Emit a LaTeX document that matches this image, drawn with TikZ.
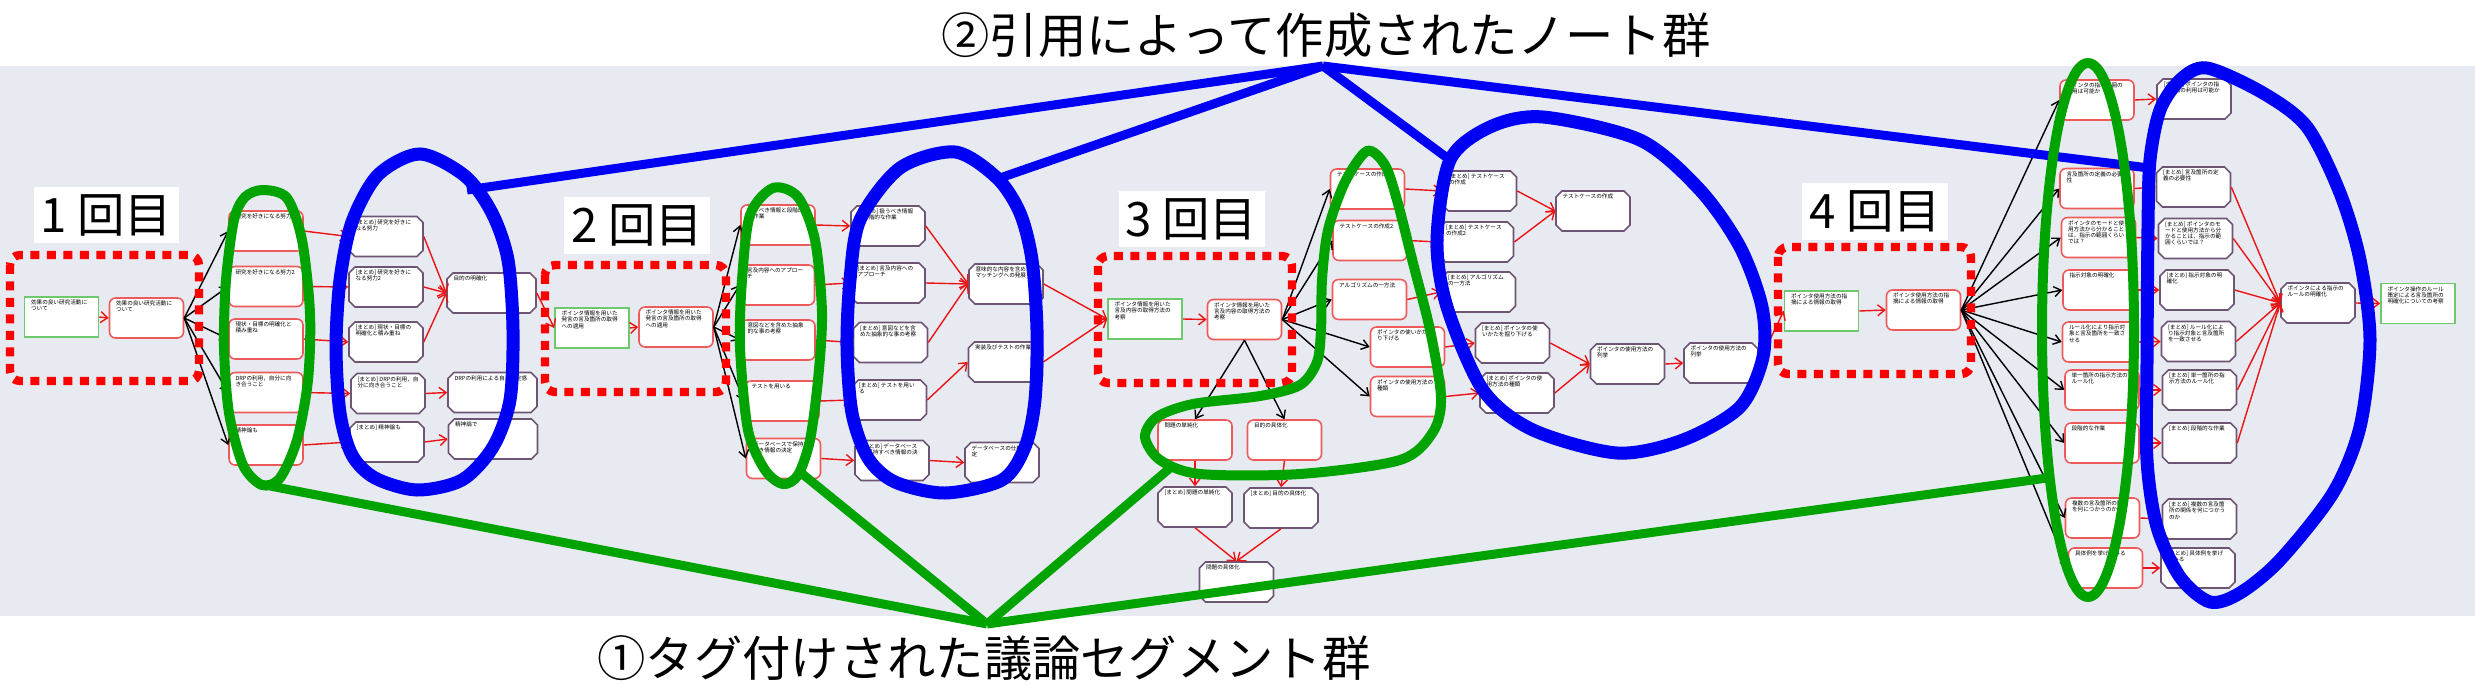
\documentclass[tikz,border=0pt]{standalone}
\usepackage{fontspec}
\setmainfont{Noto Sans CJK JP}
\XeTeXlinebreaklocale "ja"
\XeTeXlinebreakskip=0pt plus 1pt
\usetikzlibrary{arrows.meta,shapes.misc,calc}

\definecolor{panelgray}{RGB}{232,234,242}
\definecolor{notered}{RGB}{238,90,90}
\definecolor{arrowred}{RGB}{235,20,20}
\definecolor{summgray}{RGB}{110,85,115}
\definecolor{srcgreen}{RGB}{110,200,110}
\definecolor{markgreen}{RGB}{0,163,0}
\definecolor{markblue}{RGB}{0,0,245}
\definecolor{sessred}{RGB}{255,0,0}

\newcommand{\bx}[2][1.22cm]{\parbox[c][0.68cm][t]{#1}{\raggedright #2}}

\tikzset{
  card/.style={fill=white, line width=0.9pt, minimum width=1.48cm, minimum height=0.8cm,
               inner xsep=0.13cm, inner ysep=0.06cm, font=\fontsize{3.2}{3.5}\selectfont},
  src/.style={card, draw=srcgreen, rectangle},
  note/.style={card, draw=notered, rounded corners=0.12cm},
  summ/.style={card, draw=summgray, chamfered rectangle, inner xsep=0.07cm, inner ysep=0cm,
               chamfered rectangle xsep=0.06cm, chamfered rectangle ysep=0.06cm},
  redarr/.style={draw=arrowred, line width=0.8pt, -{Straight Barb[length=0.14cm, width=0.22cm]}},
  blkarr/.style={draw=black, line width=0.8pt, -{Straight Barb[length=0.14cm, width=0.2cm]}},
  sessbox/.style={draw=sessred, line width=4.8pt, dash pattern=on 0.18cm off 0.15cm, rounded corners=0.2cm},
  sesslabel/.style={fill=white, minimum width=2.92cm, minimum height=1.14cm, inner sep=0pt,
                    font=\fontsize{27}{27}\selectfont},
  blueline/.style={draw=markblue, line width=0.18cm},
  greenline/.style={draw=markgreen, line width=0.18cm},
  title/.style={font=\fontsize{27.5}{28}\selectfont, inner sep=0pt}
}

\begin{document}
\begin{tikzpicture}[x=0.02cm, y=-0.02cm]
  \useasboundingbox (0,0) rectangle (2475,696);
  \fill[panelgray] (0,66) rectangle (2475,616);

  % 1st session
  \node[src]  (s1)  at (61.5,317) {\bx{効果の良い研究活動について}};
  \node[note] (r1)  at (146.5,318) {\bx{効果の良い研究活動について}};
  \node[note] (a1a) at (266,231) {\bx{研究を好きになる努力}};
  \node[note] (a1b) at (266,286.5) {\bx{研究を好きになる努力2}};
  \node[note] (a1c) at (266,339) {\bx{現状・目標の明確化と積み重ね}};
  \node[note] (a1d) at (266,392.5) {\bx{DRPの利用，自分に向き合うこと}};
  \node[note] (a1e) at (266,445) {\bx{精神論も}};
  \node[summ] (m1a) at (386,236.5) {\bx{[まとめ] 研究を好きになる努力}};
  \node[summ] (m1b) at (386,287) {\bx{[まとめ] 研究を好きになる努力2}};
  \node[summ] (m1c) at (386,342) {\bx{[まとめ] 現状・目標の明確化と積み重ね}};
  \node[summ] (m1d) at (388,393.5) {\bx{[まとめ] DRPの利用，自分に向き合うこと}};
  \node[summ] (m1e) at (387,442) {\bx{[まとめ] 精神論も}};
  \node[summ, minimum width=1.78cm] (t1a) at (491.5,293) {\bx[1.52cm]{目的の明確化}};
  \node[summ, minimum width=1.78cm] (t1b) at (492.5,392.5) {\bx[1.52cm]{DRPの利用による自己肯定感}};
  \node[summ, minimum width=1.78cm] (t1c) at (493,439) {\bx[1.52cm]{精神論で}};

  % 2nd session
  \node[src]  (s2)  at (592,328) {\bx{ポインタ情報を用いた発言の言及箇所の取得への適用}};
  \node[note] (r2)  at (676,327) {\bx{ポインタ情報を用いた発言の言及箇所の取得への適用}};
  \node[note] (a2a) at (778,225) {\bx{扱うべき情報と段階的な作業}};
  \node[note] (a2b) at (777.5,285) {\bx{言及内容へのアプローチ}};
  \node[note] (a2c) at (778,340) {\bx{意図などを含めた抽象的な事の考察}};
  \node[note] (a2d) at (782,401) {\bx{テストを用いる}};
  \node[note] (a2e) at (783.5,458.5) {\bx{データベースで保持すべき情報の決定}};
  \node[summ] (m2a) at (888,226) {\bx{[まとめ] 扱うべき情報と段階的な作業}};
  \node[summ] (m2b) at (888,283) {\bx{[まとめ] 言及内容へのアプローチ}};
  \node[summ] (m2c) at (890.5,342.5) {\bx{[まとめ] 意図などを含めた抽象的な事の考察}};
  \node[summ] (m2d) at (889.5,400) {\bx{[まとめ] テストを用いる}};
  \node[summ] (m2e) at (892,460.5) {\bx{[まとめ] データベースで保持すべき情報の決定}};
  \node[summ] (t2a) at (1006,284) {\bx{意味的な内容を含めたマッチングへの発展}};
  \node[summ] (t2b) at (1005.5,362) {\bx{実装及びテストの作業}};
  \node[summ] (t2c) at (1002,462.5) {\bx{データベースの仕様決定}};

  % 3rd session
  \node[src]  (s3)  at (1145,319) {\bx{ポインタ情報を用いた言及内容の取得方法の考察}};
  \node[note] (r3)  at (1244.5,319.5) {\bx{ポインタ情報を用いた言及内容の取得方法の考察}};
  \node[note] (a3a) at (1367.5,189) {\bx{テストケースの作成}};
  \node[note] (a3b) at (1370,240.5) {\bx{テストケースの作成2}};
  \node[note] (a3c) at (1369.5,299.5) {\bx{アルゴリズムの一方法}};
  \node[note] (a3d) at (1407.5,347) {\bx{ポインタの使いかた掘り下げる}};
  \node[note] (a3e) at (1407.5,396.5) {\bx{ポインタの使用方法の種類}};
  \node[note] (a3f) at (1195,440) {\bx{問題の単純化}};
  \node[note] (a3g) at (1284.5,440) {\bx{目的の具体化}};
  \node[summ] (m3a) at (1479.5,191) {\bx{[まとめ] テストケースの作成}};
  \node[summ] (m3b) at (1476.5,242) {\bx{[まとめ] テストケースの作成2}};
  \node[summ] (m3c) at (1478.5,292) {\bx{[まとめ] アルゴリズムの一方法}};
  \node[summ] (m3d) at (1512.5,343) {\bx{[まとめ] ポインタの使いかたを掘り下げる}};
  \node[summ] (m3e) at (1517,393) {\bx{[まとめ] ポインタの使用方法の種類}};
  \node[summ] (m3f) at (1195,507) {\bx{[まとめ] 問題の単純化}};
  \node[summ] (m3g) at (1281,508) {\bx{[まとめ] 目的の具体化}};
  \node[summ] (t3a) at (1593,211) {\bx{テストケースの作成}};
  \node[summ] (t3b) at (1627.5,364) {\bx{ポインタの使用方法の列挙}};
  \node[summ] (t3c) at (1721,363) {\bx{ポインタの使用方法の列挙}};
  \node[summ] (t3d) at (1236.5,582) {\bx{問題の具体化}};

  % 4th session
  \node[src]  (s4)  at (1821.5,311) {\bx{ポインタ使用方法の指摘による情報の取得}};
  \node[note] (r4)  at (1923.5,310) {\bx{ポインタ使用方法の指摘による情報の取得}};
  \node[note] (a4a) at (2097,100) {\bx{ポインタの指示範囲の利用は可能か}};
  \node[note] (a4b) at (2097,188.5) {\bx{言及箇所の定義の必要性}};
  \node[note] (a4c) at (2098.5,237.5) {\bx{ポインタのモードと使用方法から分かることは，指示の範囲くらいでは？}};
  \node[note] (a4d) at (2100,290) {\bx{指示対象の明確化}};
  \node[note] (a4e) at (2099.5,342) {\bx{ルール化により指示対象と言及箇所を一致させる}};
  \node[note] (a4f) at (2102,390) {\bx{単一箇所の指示方法のルール化}};
  \node[note] (a4g) at (2102,443) {\bx{段階的な作業}};
  \node[note] (a4h) at (2102.5,518) {\bx{複数の言及箇所の関係を何につかうのか}};
  \node[note] (a4i) at (2105.5,568) {\bx{具体例を挙げてみる}};
  \node[summ] (m4a) at (2194,99) {\bx{[まとめ] ポインタの指示範囲の利用は可能か}};
  \node[summ] (m4b) at (2193.5,187) {\bx{[まとめ] 言及箇所の定義の必要性}};
  \node[summ] (m4c) at (2195.5,238.5) {\bx{[まとめ] ポインタのモードと使用方法から分かることは，指示の範囲くらいでは？}};
  \node[summ] (m4d) at (2197,290) {\bx{[まとめ] 指示対象の明確化}};
  \node[summ] (m4e) at (2198.5,341.5) {\bx{[まとめ] ルール化により指示対象と言及箇所を一致させる}};
  \node[summ] (m4f) at (2199.5,390) {\bx{[まとめ] 単一箇所の指示方法のルール化}};
  \node[summ] (m4g) at (2199.5,443) {\bx{[まとめ] 段階的な作業}};
  \node[summ] (m4h) at (2199.5,519) {\bx{[まとめ] 複数の言及箇所の関係を何につかうのか}};
  \node[summ] (m4i) at (2198,568) {\bx{[まとめ] 具体例を挙げてみる}};
  \node[summ] (t4a) at (2318,303) {\bx{ポインタによる指示のルールの明確化}};
  \node[src]  (u4)  at (2418,303.5) {\bx{ポインタ操作のルール策定による言及箇所の明確化についての考察}};

  % links of the 1st session
  \draw[redarr] (s1.east) -- (r1.west);
  \draw[blkarr] (r1.east) -- (a1a.west);
  \draw[blkarr] (r1.east) -- (a1b.west);
  \draw[blkarr] (r1.east) -- (a1c.west);
  \draw[blkarr] (r1.east) -- (a1d.west);
  \draw[blkarr] (r1.east) -- (a1e.west);
  \draw[redarr] (a1a.east) -- (m1a.west);
  \draw[redarr] (a1b.east) -- (m1b.west);
  \draw[redarr] (a1c.east) -- (m1c.west);
  \draw[redarr] (a1d.east) -- (m1d.west);
  \draw[redarr] (a1e.east) -- (m1e.west);
  \draw[redarr] (m1a.east) -- (t1a.west);
  \draw[redarr] (m1b.east) -- (t1a.west);
  \draw[redarr] (m1c.east) -- (t1a.west);
  \draw[redarr] (m1d.east) -- (t1b.west);
  \draw[redarr] (m1e.east) -- (t1c.west);
  \draw[redarr] (t1a.east) -- (s2.west);

  % links of the 2nd session
  \draw[redarr] (s2.east) -- (r2.west);
  \draw[blkarr] (r2.east) -- (a2a.west);
  \draw[blkarr] (r2.east) -- (a2b.west);
  \draw[blkarr] (r2.east) -- (a2c.west);
  \draw[blkarr] (r2.east) -- (a2d.west);
  \draw[blkarr] (r2.east) -- (a2e.west);
  \draw[redarr] (a2a.east) -- (m2a.west);
  \draw[redarr] (a2b.east) -- (m2b.west);
  \draw[redarr] (a2c.east) -- (m2c.west);
  \draw[redarr] (a2d.east) -- (m2d.west);
  \draw[redarr] (a2e.east) -- (m2e.west);
  \draw[redarr] (m2a.east) -- (t2a.west);
  \draw[redarr] (m2b.east) -- (t2a.west);
  \draw[redarr] (m2c.east) -- (t2a.west);
  \draw[redarr] (m2d.east) -- (t2b.west);
  \draw[redarr] (m2e.east) -- (t2c.west);
  \draw[redarr] (t2a.east) -- (s3.west);
  \draw[redarr] (t2b.east) -- (s3.west);

  % links of the 3rd session
  \draw[redarr] (s3.east) -- (r3.west);
  \draw[blkarr] (r3.east) -- (a3a.west);
  \draw[blkarr] (r3.east) -- (a3b.west);
  \draw[blkarr] (r3.east) -- (a3c.west);
  \draw[blkarr] (r3.east) -- (a3d.west);
  \draw[blkarr] (r3.east) -- (a3e.west);
  \draw[blkarr] (r3.south) -- (a3f.north);
  \draw[blkarr] (r3.south) -- (a3g.north);
  \draw[redarr] (a3a.east) -- (m3a.west);
  \draw[redarr] (a3b.east) -- (m3b.west);
  \draw[redarr] (a3c.east) -- (m3c.west);
  \draw[redarr] (a3d.east) -- (m3d.west);
  \draw[redarr] (a3e.east) -- (m3e.west);
  \draw[redarr] (a3f.south) -- (m3f.north);
  \draw[redarr] (a3g.south) -- (m3g.north);
  \draw[redarr] (m3a.east) -- (t3a.west);
  \draw[redarr] (m3b.east) -- (t3a.west);
  \draw[redarr] (m3d.east) -- (t3b.west);
  \draw[redarr] (m3e.east) -- (t3b.west);
  \draw[redarr] (t3b.east) -- (t3c.west);
  \draw[redarr] (m3f.south) -- (t3d.north);
  \draw[redarr] (m3g.south) -- (t3d.north);
  \draw[redarr] (t3c.east) -- (s4.west);

  % links of the 4th session
  \draw[redarr] (s4.east) -- (r4.west);
  \draw[blkarr] (r4.east) -- (a4a.west);
  \draw[blkarr] (r4.east) -- (a4b.west);
  \draw[blkarr] (r4.east) -- (a4c.west);
  \draw[blkarr] (r4.east) -- (a4d.west);
  \draw[blkarr] (r4.east) -- (a4e.west);
  \draw[blkarr] (r4.east) -- (a4f.west);
  \draw[blkarr] (r4.east) -- (a4g.west);
  \draw[blkarr] (r4.east) -- (a4h.west);
  \draw[blkarr] (r4.east) -- (a4i.west);
  \draw[redarr] (a4a.east) -- (m4a.west);
  \draw[redarr] (a4b.east) -- (m4b.west);
  \draw[redarr] (a4c.east) -- (m4c.west);
  \draw[redarr] (a4d.east) -- (m4d.west);
  \draw[redarr] (a4e.east) -- (m4e.west);
  \draw[redarr] (a4f.east) -- (m4f.west);
  \draw[redarr] (a4g.east) -- (m4g.west);
  \draw[redarr] (a4h.east) -- (m4h.west);
  \draw[redarr] (a4i.east) -- (m4i.west);
  \draw[redarr] (m4b.east) -- (t4a.west);
  \draw[redarr] (m4c.east) -- (t4a.west);
  \draw[redarr] (m4d.east) -- (t4a.west);
  \draw[redarr] (m4e.east) -- (t4a.west);
  \draw[redarr] (m4f.east) -- (t4a.west);
  \draw[redarr] (m4g.east) -- (t4a.west);
  \draw[redarr] (t4a.east) -- (u4.west);

  % session frames and labels
  \draw[sessbox] (10,255) rectangle (199,381);
  \draw[sessbox] (545,265) rectangle (726,392);
  \draw[sessbox] (1098,256) rectangle (1292,383);
  \draw[sessbox] (1778,247) rectangle (1971,374);
  \node[sesslabel] (lbl1) at (106.5,215) {1 回目};
  \node[sesslabel] (lbl2) at (637,225.5) {2 回目};
  \node[sesslabel] (lbl3) at (1191.5,219) {3 回目};
  \node[sesslabel] (lbl4) at (1875,211.5) {4 回目};

  % blue: notes made by citation
  \draw[markblue, line width=0.26cm] plot[smooth cycle] coordinates {(420,154) (465,176) (492,213) (508,260) (513,330) (510,400) (493,447) (462,480) (417,490) (375,478) (352,455) (340,413) (336,347) (340,280) (352,222) (378,175)};
  \draw[markblue, line width=0.26cm] plot[smooth cycle] coordinates {(955,152) (997,178) (1020,213) (1032,260) (1037,330) (1035,400) (1025,447) (1002,480) (945,493) (895,482) (868,458) (852,413) (847,347) (850,280) (860,220) (900,168)};
  \draw[markblue, line width=0.26cm] plot[smooth cycle] coordinates {(1543,117) (1640,140) (1700,190) (1740,247) (1762,307) (1763,357) (1740,407) (1683,440) (1617,453) (1533,430) (1483,390) (1447,307) (1437,240) (1450,160) (1490,127)};
  \draw[markblue, line width=0.26cm] plot[smooth cycle] coordinates {(2207,68) (2263,93) (2307,127) (2340,193) (2360,260) (2370,340) (2360,427) (2333,493) (2280,560) (2240,593) (2210,602) (2180,577) (2157,527) (2147,460) (2147,360) (2148,227) (2150,160) (2160,110) (2180,80)};
  \coordinate (noteApex) at (1323,66);
  \coordinate (b1end) at (467,190);
  \coordinate (b2end) at (1000,178);
  \coordinate (b3end) at (1450,160);
  \coordinate (b4end) at (2149,168);
  \draw[blueline] (noteApex) -- (b1end);
  \draw[blueline] (noteApex) -- (b2end);
  \draw[blueline] (noteApex) -- (b3end);
  \draw[blueline] (noteApex) -- (b4end);

  % green: tagged discussion segments
  \draw[markgreen, line width=0.2cm] plot[smooth cycle] coordinates {(263,190) (287,198) (302,240) (310,313) (308,380) (297,440) (280,478) (262,485) (243,465) (229,413) (224,347) (226,280) (234,220) (245,197)};
  \draw[markgreen, line width=0.2cm] plot[smooth cycle] coordinates {(773,188) (798,197) (815,240) (822,313) (818,380) (810,440) (798,475) (783,484) (765,470) (748,430) (740,347) (742,280) (750,215)};
  \draw[markgreen, line width=0.2cm] plot[smooth cycle] coordinates {(1367,151) (1385,165) (1397,200) (1413,263) (1430,330) (1441,397) (1433,432) (1400,460) (1300,474) (1200,474) (1160,460) (1145,437) (1157,417) (1193,404) (1260,396) (1300,385) (1317,362) (1321,330) (1322,280) (1328,230) (1345,182)};
  \draw[markgreen, line width=0.2cm] (2088,330) ellipse [x radius=0.92cm, y radius=5.34cm];
  \coordinate (segApex) at (987,624);
  \coordinate (g1end) at (270,486);
  \coordinate (g2end) at (800,472);
  \coordinate (g3end) at (1170,468);
  \coordinate (g4end) at (2047,478);
  \draw[greenline] (segApex) -- (g1end);
  \draw[greenline] (segApex) -- (g2end);
  \draw[greenline] (segApex) -- (g3end);
  \draw[greenline] (segApex) -- (g4end);

  \node[title] (notesTitle) at (1326,35) {②引用によって作成されたノート群};
  \node[title] (segTitle) at (984,658) {①タグ付けされた議論セグメント群};
\end{tikzpicture}
\end{document}
